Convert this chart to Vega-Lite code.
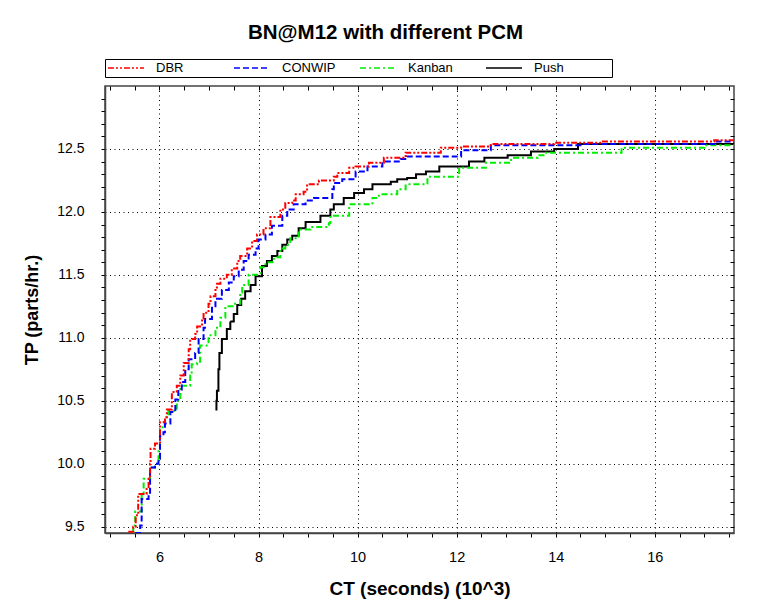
{
  "$schema": "https://vega.github.io/schema/vega-lite/v6.json",
  "width": 629,
  "height": 447,
  "autosize": {"type": "none"},
  "padding": {"left": 105, "top": 86, "right": 26, "bottom": 81},
  "background": "white",
  "title": {"text": "BN@M12 with different PCM", "font": "Liberation Sans", "fontSize": 20.5, "fontWeight": "bold", "color": "black", "anchor": "middle", "frame": "group", "dx": -34, "offset": 15},
  "datasets": {
    "curves": [
      {"series": "Push", "ct": 7.13, "tp": 10.43},
      {"series": "Push", "ct": 7.15, "tp": 10.50},
      {"series": "Push", "ct": 7.16, "tp": 10.58},
      {"series": "Push", "ct": 7.19, "tp": 10.75},
      {"series": "Push", "ct": 7.21, "tp": 10.88},
      {"series": "Push", "ct": 7.26, "tp": 10.99},
      {"series": "Push", "ct": 7.36, "tp": 11.07},
      {"series": "Push", "ct": 7.43, "tp": 11.13},
      {"series": "Push", "ct": 7.50, "tp": 11.19},
      {"series": "Push", "ct": 7.57, "tp": 11.26},
      {"series": "Push", "ct": 7.65, "tp": 11.31},
      {"series": "Push", "ct": 7.73, "tp": 11.37},
      {"series": "Push", "ct": 7.84, "tp": 11.42},
      {"series": "Push", "ct": 7.94, "tp": 11.49},
      {"series": "Push", "ct": 8.07, "tp": 11.57},
      {"series": "Push", "ct": 8.17, "tp": 11.61},
      {"series": "Push", "ct": 8.27, "tp": 11.65},
      {"series": "Push", "ct": 8.38, "tp": 11.69},
      {"series": "Push", "ct": 8.48, "tp": 11.74},
      {"series": "Push", "ct": 8.58, "tp": 11.78},
      {"series": "Push", "ct": 8.68, "tp": 11.81},
      {"series": "Push", "ct": 8.81, "tp": 11.87},
      {"series": "Push", "ct": 8.95, "tp": 11.92},
      {"series": "Push", "ct": 9.25, "tp": 11.97},
      {"series": "Push", "ct": 9.45, "tp": 12.02},
      {"series": "Push", "ct": 9.52, "tp": 12.06},
      {"series": "Push", "ct": 9.72, "tp": 12.11},
      {"series": "Push", "ct": 9.93, "tp": 12.15},
      {"series": "Push", "ct": 10.13, "tp": 12.18},
      {"series": "Push", "ct": 10.30, "tp": 12.22},
      {"series": "Push", "ct": 10.67, "tp": 12.24},
      {"series": "Push", "ct": 10.80, "tp": 12.26},
      {"series": "Push", "ct": 11.00, "tp": 12.27},
      {"series": "Push", "ct": 11.18, "tp": 12.30},
      {"series": "Push", "ct": 11.38, "tp": 12.32},
      {"series": "Push", "ct": 11.65, "tp": 12.36},
      {"series": "Push", "ct": 12.25, "tp": 12.40},
      {"series": "Push", "ct": 12.56, "tp": 12.43},
      {"series": "Push", "ct": 13.03, "tp": 12.45},
      {"series": "Push", "ct": 13.50, "tp": 12.48},
      {"series": "Push", "ct": 13.97, "tp": 12.50},
      {"series": "Push", "ct": 14.45, "tp": 12.54},
      {"series": "Push", "ct": 17.60, "tp": 12.55},
      {"series": "Kanban", "ct": 5.45, "tp": 9.45},
      {"series": "Kanban", "ct": 5.47, "tp": 9.51},
      {"series": "Kanban", "ct": 5.51, "tp": 9.62},
      {"series": "Kanban", "ct": 5.64, "tp": 9.76},
      {"series": "Kanban", "ct": 5.68, "tp": 9.88},
      {"series": "Kanban", "ct": 5.81, "tp": 9.97},
      {"series": "Kanban", "ct": 5.91, "tp": 10.00},
      {"series": "Kanban", "ct": 5.98, "tp": 10.12},
      {"series": "Kanban", "ct": 6.01, "tp": 10.29},
      {"series": "Kanban", "ct": 6.11, "tp": 10.37},
      {"series": "Kanban", "ct": 6.18, "tp": 10.42},
      {"series": "Kanban", "ct": 6.35, "tp": 10.50},
      {"series": "Kanban", "ct": 6.42, "tp": 10.62},
      {"series": "Kanban", "ct": 6.62, "tp": 10.70},
      {"series": "Kanban", "ct": 6.65, "tp": 10.79},
      {"series": "Kanban", "ct": 6.76, "tp": 10.80},
      {"series": "Kanban", "ct": 6.82, "tp": 10.94},
      {"series": "Kanban", "ct": 6.99, "tp": 11.02},
      {"series": "Kanban", "ct": 7.13, "tp": 11.08},
      {"series": "Kanban", "ct": 7.23, "tp": 11.16},
      {"series": "Kanban", "ct": 7.33, "tp": 11.25},
      {"series": "Kanban", "ct": 7.50, "tp": 11.27},
      {"series": "Kanban", "ct": 7.63, "tp": 11.36},
      {"series": "Kanban", "ct": 7.67, "tp": 11.42},
      {"series": "Kanban", "ct": 7.80, "tp": 11.50},
      {"series": "Kanban", "ct": 8.04, "tp": 11.56},
      {"series": "Kanban", "ct": 8.14, "tp": 11.60},
      {"series": "Kanban", "ct": 8.31, "tp": 11.64},
      {"series": "Kanban", "ct": 8.44, "tp": 11.71},
      {"series": "Kanban", "ct": 8.54, "tp": 11.74},
      {"series": "Kanban", "ct": 8.64, "tp": 11.79},
      {"series": "Kanban", "ct": 8.81, "tp": 11.86},
      {"series": "Kanban", "ct": 9.05, "tp": 11.88},
      {"series": "Kanban", "ct": 9.42, "tp": 11.91},
      {"series": "Kanban", "ct": 9.45, "tp": 11.97},
      {"series": "Kanban", "ct": 9.83, "tp": 12.06},
      {"series": "Kanban", "ct": 10.30, "tp": 12.11},
      {"series": "Kanban", "ct": 10.43, "tp": 12.14},
      {"series": "Kanban", "ct": 10.80, "tp": 12.18},
      {"series": "Kanban", "ct": 10.97, "tp": 12.22},
      {"series": "Kanban", "ct": 11.41, "tp": 12.28},
      {"series": "Kanban", "ct": 12.05, "tp": 12.35},
      {"series": "Kanban", "ct": 12.59, "tp": 12.39},
      {"series": "Kanban", "ct": 13.10, "tp": 12.43},
      {"series": "Kanban", "ct": 13.64, "tp": 12.45},
      {"series": "Kanban", "ct": 13.78, "tp": 12.47},
      {"series": "Kanban", "ct": 15.33, "tp": 12.51},
      {"series": "Kanban", "ct": 17.00, "tp": 12.53},
      {"series": "Kanban", "ct": 17.60, "tp": 12.53},
      {"series": "CONWIP", "ct": 5.51, "tp": 9.45},
      {"series": "CONWIP", "ct": 5.61, "tp": 9.51},
      {"series": "CONWIP", "ct": 5.64, "tp": 9.72},
      {"series": "CONWIP", "ct": 5.78, "tp": 9.75},
      {"series": "CONWIP", "ct": 5.81, "tp": 9.97},
      {"series": "CONWIP", "ct": 5.91, "tp": 10.00},
      {"series": "CONWIP", "ct": 5.98, "tp": 10.04},
      {"series": "CONWIP", "ct": 6.01, "tp": 10.22},
      {"series": "CONWIP", "ct": 6.08, "tp": 10.25},
      {"series": "CONWIP", "ct": 6.11, "tp": 10.32},
      {"series": "CONWIP", "ct": 6.22, "tp": 10.41},
      {"series": "CONWIP", "ct": 6.32, "tp": 10.51},
      {"series": "CONWIP", "ct": 6.38, "tp": 10.59},
      {"series": "CONWIP", "ct": 6.45, "tp": 10.65},
      {"series": "CONWIP", "ct": 6.52, "tp": 10.75},
      {"series": "CONWIP", "ct": 6.59, "tp": 10.83},
      {"series": "CONWIP", "ct": 6.72, "tp": 10.88},
      {"series": "CONWIP", "ct": 6.79, "tp": 10.99},
      {"series": "CONWIP", "ct": 6.89, "tp": 11.08},
      {"series": "CONWIP", "ct": 6.92, "tp": 11.15},
      {"series": "CONWIP", "ct": 7.06, "tp": 11.25},
      {"series": "CONWIP", "ct": 7.13, "tp": 11.31},
      {"series": "CONWIP", "ct": 7.26, "tp": 11.38},
      {"series": "CONWIP", "ct": 7.40, "tp": 11.44},
      {"series": "CONWIP", "ct": 7.50, "tp": 11.49},
      {"series": "CONWIP", "ct": 7.60, "tp": 11.54},
      {"series": "CONWIP", "ct": 7.70, "tp": 11.61},
      {"series": "CONWIP", "ct": 7.80, "tp": 11.66},
      {"series": "CONWIP", "ct": 7.94, "tp": 11.71},
      {"series": "CONWIP", "ct": 8.00, "tp": 11.78},
      {"series": "CONWIP", "ct": 8.14, "tp": 11.82},
      {"series": "CONWIP", "ct": 8.27, "tp": 11.89},
      {"series": "CONWIP", "ct": 8.48, "tp": 11.97},
      {"series": "CONWIP", "ct": 8.58, "tp": 12.02},
      {"series": "CONWIP", "ct": 8.71, "tp": 12.06},
      {"series": "CONWIP", "ct": 8.95, "tp": 12.09},
      {"series": "CONWIP", "ct": 9.12, "tp": 12.11},
      {"series": "CONWIP", "ct": 9.49, "tp": 12.18},
      {"series": "CONWIP", "ct": 9.52, "tp": 12.23},
      {"series": "CONWIP", "ct": 9.69, "tp": 12.26},
      {"series": "CONWIP", "ct": 9.96, "tp": 12.32},
      {"series": "CONWIP", "ct": 10.20, "tp": 12.36},
      {"series": "CONWIP", "ct": 10.50, "tp": 12.40},
      {"series": "CONWIP", "ct": 10.87, "tp": 12.42},
      {"series": "CONWIP", "ct": 11.00, "tp": 12.44},
      {"series": "CONWIP", "ct": 12.09, "tp": 12.49},
      {"series": "CONWIP", "ct": 12.69, "tp": 12.53},
      {"series": "CONWIP", "ct": 14.52, "tp": 12.54},
      {"series": "CONWIP", "ct": 17.20, "tp": 12.56},
      {"series": "CONWIP", "ct": 17.60, "tp": 12.56},
      {"series": "DBR", "ct": 5.37, "tp": 9.46},
      {"series": "DBR", "ct": 5.47, "tp": 9.50},
      {"series": "DBR", "ct": 5.52, "tp": 9.59},
      {"series": "DBR", "ct": 5.57, "tp": 9.76},
      {"series": "DBR", "ct": 5.74, "tp": 9.80},
      {"series": "DBR", "ct": 5.78, "tp": 9.88},
      {"series": "DBR", "ct": 5.81, "tp": 10.00},
      {"series": "DBR", "ct": 5.82, "tp": 10.12},
      {"series": "DBR", "ct": 5.91, "tp": 10.16},
      {"series": "DBR", "ct": 6.01, "tp": 10.33},
      {"series": "DBR", "ct": 6.11, "tp": 10.37},
      {"series": "DBR", "ct": 6.15, "tp": 10.43},
      {"series": "DBR", "ct": 6.25, "tp": 10.57},
      {"series": "DBR", "ct": 6.35, "tp": 10.62},
      {"series": "DBR", "ct": 6.42, "tp": 10.70},
      {"series": "DBR", "ct": 6.49, "tp": 10.80},
      {"series": "DBR", "ct": 6.59, "tp": 10.91},
      {"series": "DBR", "ct": 6.62, "tp": 10.99},
      {"series": "DBR", "ct": 6.72, "tp": 11.03},
      {"series": "DBR", "ct": 6.76, "tp": 11.09},
      {"series": "DBR", "ct": 6.86, "tp": 11.15},
      {"series": "DBR", "ct": 6.89, "tp": 11.20},
      {"series": "DBR", "ct": 6.99, "tp": 11.27},
      {"series": "DBR", "ct": 7.03, "tp": 11.33},
      {"series": "DBR", "ct": 7.13, "tp": 11.38},
      {"series": "DBR", "ct": 7.16, "tp": 11.43},
      {"series": "DBR", "ct": 7.23, "tp": 11.47},
      {"series": "DBR", "ct": 7.36, "tp": 11.50},
      {"series": "DBR", "ct": 7.46, "tp": 11.55},
      {"series": "DBR", "ct": 7.57, "tp": 11.61},
      {"series": "DBR", "ct": 7.63, "tp": 11.65},
      {"series": "DBR", "ct": 7.77, "tp": 11.71},
      {"series": "DBR", "ct": 7.87, "tp": 11.77},
      {"series": "DBR", "ct": 7.97, "tp": 11.82},
      {"series": "DBR", "ct": 8.10, "tp": 11.87},
      {"series": "DBR", "ct": 8.24, "tp": 11.96},
      {"series": "DBR", "ct": 8.44, "tp": 12.02},
      {"series": "DBR", "ct": 8.54, "tp": 12.07},
      {"series": "DBR", "ct": 8.68, "tp": 12.09},
      {"series": "DBR", "ct": 8.75, "tp": 12.14},
      {"series": "DBR", "ct": 8.91, "tp": 12.16},
      {"series": "DBR", "ct": 8.98, "tp": 12.22},
      {"series": "DBR", "ct": 9.22, "tp": 12.25},
      {"series": "DBR", "ct": 9.52, "tp": 12.28},
      {"series": "DBR", "ct": 9.59, "tp": 12.31},
      {"series": "DBR", "ct": 9.83, "tp": 12.35},
      {"series": "DBR", "ct": 9.96, "tp": 12.36},
      {"series": "DBR", "ct": 10.23, "tp": 12.39},
      {"series": "DBR", "ct": 10.53, "tp": 12.43},
      {"series": "DBR", "ct": 10.97, "tp": 12.47},
      {"series": "DBR", "ct": 11.68, "tp": 12.51},
      {"series": "DBR", "ct": 12.09, "tp": 12.52},
      {"series": "DBR", "ct": 12.69, "tp": 12.54},
      {"series": "DBR", "ct": 13.97, "tp": 12.55},
      {"series": "DBR", "ct": 14.92, "tp": 12.56},
      {"series": "DBR", "ct": 17.20, "tp": 12.57},
      {"series": "DBR", "ct": 17.60, "tp": 12.57}
    ]
  },
  "data": {"name": "curves"},
  "layer": [
    {
      "mark": {"type": "line", "interpolate": "step-after", "strokeWidth": 2, "clip": true},
      "encoding": {
        "x": {
          "field": "ct", "type": "quantitative",
          "scale": {"domain": [4.9, 17.6], "nice": false, "zero": false},
          "axis": {
            "orient": "bottom",
            "values": [5, 5.5, 6, 6.5, 7, 7.5, 8, 8.5, 9, 9.5, 10, 10.5, 11, 11.5, 12, 12.5, 13, 13.5, 14, 14.5, 15, 15.5, 16, 16.5, 17, 17.5],
            "labelExpr": "(datum.value % 2 == 0) ? format(datum.value, 'd') : ''",
            "grid": true,
            "gridColor": "black",
            "gridDash": [1, 3.5],
            "gridWidth": 1,
            "gridOpacity": {"condition": {"test": "datum.value % 2 == 0", "value": 1}, "value": 0},
            "tickSize": 4, "tickColor": "black", "tickWidth": 1,
            "domainColor": "#444", "domainWidth": 1.5,
            "labelFont": "Liberation Sans", "labelFontSize": 14.5, "labelColor": "black",
            "labelPadding": 13, "labelOverlap": false, "labelFlush": false, "labelBound": false,
            "title": "CT (seconds) (10^3)",
            "titleFont": "Liberation Sans", "titleFontSize": 19, "titleFontWeight": "bold", "titleColor": "black",
            "titleY": 55, "titleBaseline": "middle"
          }
        },
        "y": {
          "field": "tp", "type": "quantitative",
          "scale": {"domain": [9.45, 13.0], "nice": false, "zero": false},
          "axis": {
            "orient": "left",
            "values": [9.5, 9.6, 9.7, 9.8, 9.9, 10.0, 10.1, 10.2, 10.3, 10.4, 10.5, 10.6, 10.7, 10.8, 10.9, 11.0, 11.1, 11.2, 11.3, 11.4, 11.5, 11.6, 11.7, 11.8, 11.9, 12.0, 12.1, 12.2, 12.3, 12.4, 12.5, 12.6, 12.7, 12.8, 12.9],
            "labelExpr": "abs(datum.value * 2 - round(datum.value * 2)) < 0.001 ? format(datum.value, '.1f') : ''",
            "grid": true,
            "gridColor": "black",
            "gridDash": [1, 3.5],
            "gridWidth": 1,
            "gridOpacity": {"condition": {"test": "abs(datum.value * 2 - round(datum.value * 2)) < 0.001", "value": 1}, "value": 0},
            "tickSize": 4, "tickColor": "black", "tickWidth": 1,
            "domainColor": "#444", "domainWidth": 1.5,
            "labelFont": "Liberation Sans", "labelFontSize": 14, "labelColor": "black",
            "labelPadding": 17, "labelOverlap": false, "labelFlush": false, "labelBound": false,
            "title": "TP (parts/hr.)",
            "titleFont": "Liberation Sans", "titleFontSize": 18, "titleFontWeight": "bold", "titleColor": "black",
            "titleX": -73, "titleY": 223.5, "titleAngle": -90, "titleBaseline": "middle", "titleAlign": "center"
          }
        },
        "color": {
          "field": "series", "type": "nominal",
          "scale": {"domain": ["DBR", "CONWIP", "Kanban", "Push"], "range": ["#ff0000", "#0000ff", "#00ee00", "#000000"]},
          "legend": {
            "orient": "none", "legendX": 0, "legendY": -27,
            "direction": "horizontal", "columns": 4, "gridAlign": "all", "columnPadding": 23,
            "padding": 2, "strokeColor": "black", "fillColor": "white", "clipHeight": 14,
            "symbolType": "stroke", "symbolSize": 1300, "symbolStrokeWidth": 1.5,
            "labelFont": "Liberation Sans", "labelFontSize": 13, "labelColor": "black", "labelOffset": 11,
            "title": " ", "titleOrient": "right", "titlePadding": 46
          }
        },
        "strokeDash": {
          "field": "series", "type": "nominal",
          "scale": {"domain": ["DBR", "CONWIP", "Kanban", "Push"], "range": [[6, 2, 2, 2, 2, 2], [6, 3], [6, 3, 2, 3], [1, 0]]},
          "legend": {
            "orient": "none", "legendX": 0, "legendY": -27,
            "direction": "horizontal", "columns": 4, "gridAlign": "all", "columnPadding": 23,
            "padding": 2, "strokeColor": "black", "fillColor": "white", "clipHeight": 14,
            "symbolType": "stroke", "symbolSize": 1300, "symbolStrokeWidth": 1.5,
            "labelFont": "Liberation Sans", "labelFontSize": 13, "labelColor": "black", "labelOffset": 11,
            "title": " ", "titleOrient": "right", "titlePadding": 46
          }
        }
      }
    },
    {
      "mark": {"type": "point", "opacity": 0},
      "encoding": {
        "x": {
          "field": "ct", "type": "quantitative",
          "scale": {"domain": [4.9, 17.6], "nice": false, "zero": false},
          "axis": {
            "orient": "top",
            "values": [5, 5.5, 6, 6.5, 7, 7.5, 8, 8.5, 9, 9.5, 10, 10.5, 11, 11.5, 12, 12.5, 13, 13.5, 14, 14.5, 15, 15.5, 16, 16.5, 17, 17.5],
            "labels": false, "grid": false, "domain": false,
            "tickSize": -4, "tickColor": "black", "tickWidth": 1,
            "title": null
          }
        },
        "y": {
          "field": "tp", "type": "quantitative",
          "scale": {"domain": [9.45, 13.0], "nice": false, "zero": false},
          "axis": {
            "orient": "right",
            "values": [9.5, 9.6, 9.7, 9.8, 9.9, 10.0, 10.1, 10.2, 10.3, 10.4, 10.5, 10.6, 10.7, 10.8, 10.9, 11.0, 11.1, 11.2, 11.3, 11.4, 11.5, 11.6, 11.7, 11.8, 11.9, 12.0, 12.1, 12.2, 12.3, 12.4, 12.5, 12.6, 12.7, 12.8, 12.9],
            "labels": false, "grid": false, "domain": false,
            "tickSize": -4, "tickColor": "black", "tickWidth": 1,
            "title": null
          }
        }
      }
    }
  ],
  "resolve": {"axis": {"x": "independent", "y": "independent"}},
  "config": {"view": {"stroke": "#444", "strokeWidth": 1.5}}
}
